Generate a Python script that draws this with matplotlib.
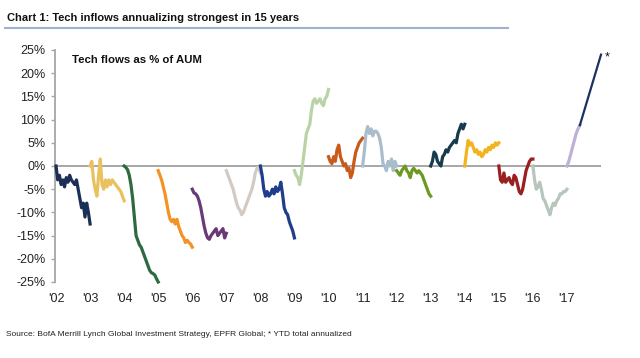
import numpy as np
import matplotlib
matplotlib.use("Agg")
import matplotlib.pyplot as plt
from matplotlib import font_manager
from matplotlib.lines import Line2D

# pick a narrow Arial-like face if one is there
names = {f.name for f in font_manager.fontManager.ttflist}
font = "Liberation Sans Narrow" if "Liberation Sans Narrow" in names else "Liberation Sans"
plt.rcParams["font.family"] = [font, "DejaVu Sans"]

# Tech flows as % of AUM, cumulative within each calendar year
v2002 = [0, -3, -2, -4, -3, -4.5, -2.5, -3.5, -2, -3, -3.5, -4, -3, -5, -7, -9, -8, -11, -8, -10, -12.5]
v2003 = [0, 1, -3, -5, -6.5, -2, 1.5, -4, -5, -3, -4.5, -3, -4, -3, -3.5, -4, -4.5, -5, -5.5, -6.5, -7.5]
v2004 = [0, -0.3, -0.8, -2, -4, -7, -11, -15, -16, -17, -17.5, -18.5, -19.5, -20.5, -21.5, -22.5, -23, -23.2, -23.5, -24.3, -25]
v2005 = [-1, -2, -3, -4.5, -6, -8, -10, -11.5, -12, -11.5, -12.5, -11.5, -13, -14, -15, -15.5, -16.5, -16, -16.5, -16.8, -17.5]
v2006 = [-5, -5.8, -6, -6.5, -7.5, -9, -11, -13, -14.5, -15.5, -15.8, -15, -14.5, -14, -13.5, -15, -14.5, -14, -13.5, -15.5, -14.5]
v2007 = [-1, -2, -3, -4, -5, -6.5, -8, -9, -9.5, -10.5, -10, -9, -8, -7, -6, -5, -3.5, -1.5, -0.5, -0.3, -1.5]
v2008 = [0, -2, -5, -6.5, -5.5, -6.5, -6, -5, -6, -4.5, -5.5, -5, -3.5, -6, -9, -10, -10.5, -12, -13, -14, -15.5]
v2009 = [-1, -2, -2.5, -4, -2, 1, 4, 7, 8, 9, 12, 14, 14.5, 13.5, 14, 14.5, 13.5, 13, 14.5, 15, 16.5]
v2010 = [2, 1, 0.5, 2, 1, 3.5, 4.5, 2, 1, 0, 0.5, -1, -0.5, -2.5, -1.5, 1, 3, 4, 5, 5.5, 6]
v2011 = [0, 3, 7, 8.5, 7, 8, 6.5, 7.5, 7.5, 7, 6, 4, 0.5, 0, -1, 1, 0, 1.5, -1, 1, 0]
v2012 = [-1, -1.5, -2, -1, -0.5, 0, -1, -1.5, -2.5, -1, -0.5, -1, -1.5, -1, -1.5, -2, -3, -4, -5, -6, -6.5]
v2013 = [0, 1, 3, 2.5, 1, 0.5, 0, 2, 2.5, 3.5, 3, 4, 4.5, 5, 5.5, 5, 7, 8, 9, 8, 9]
v2014 = [0, 3, 5.5, 4.5, 5, 4, 3, 3.5, 2.5, 3, 2, 2.5, 3.5, 3, 4, 3.5, 4.5, 4, 5, 4.5, 5]
v2015 = [0, -3, -3.5, -1.5, -3.5, -3, -2.5, -3.5, -4, -2, -2.5, -4, -5.5, -6, -5, -3, -1, 0, 1, 1.5, 1.5]
v2016 = [0, -3, -5, -4.5, -3.5, -5, -7, -7.5, -8.5, -9.5, -10.5, -9, -8, -8.5, -7.5, -7, -6, -6, -5.5, -5.5, -5]
v2017 = [0, 1, 2.5, 4, 5.5, 7, 8, 8.8]
ytd_frac = 0.38          # share of 2017 elapsed
annualized_2017 = 24     # YTD total annualized

years = list(range(2002, 2017))
series = [v2002, v2003, v2004, v2005, v2006, v2007, v2008, v2009,
          v2010, v2011, v2012, v2013, v2014, v2015, v2016]
colors = ["#1c2f57", "#e9c15f", "#2d6a3e", "#f39325", "#6a3a78", "#d3cbc3",
          "#1f3d8a", "#b9d3a6", "#c85a1a", "#a9bdcc", "#6b9a23", "#173a4d",
          "#f2b31c", "#9a1f1f", "#b7c6bb"]
tick_labels = ["'02", "'03", "'04", "'05", "'06", "'07", "'08", "'09",
               "'10", "'11", "'12", "'13", "'14", "'15", "'16", "'17"]

fig = plt.figure(figsize=(6.4, 3.58), dpi=100)
ax = fig.add_axes([55/640, 76/358, 546/640, 232/358])

for yr, vals, c in zip(years, series, colors):
    x = np.linspace(yr, yr + 1, len(vals))
    ax.plot(x, vals, color=c, lw=2.3, solid_joinstyle="round", clip_on=False, zorder=3)

x17 = np.linspace(2017, 2017 + ytd_frac, len(v2017))
ax.plot(x17, v2017, color="#bfb0d6", lw=2.3, clip_on=False, zorder=3)
ax.plot([2017 + ytd_frac, 2018], [v2017[-1], annualized_2017], color="#1c3160",
        lw=1.6, clip_on=False, zorder=3)

ax.axhline(0, color="#a0a0a0", lw=1.3, zorder=1)
ax.set_xlim(2001.97, 2018)
ax.set_ylim(-25, 25)
for s in ["top", "right", "bottom"]:
    ax.spines[s].set_visible(False)
ax.spines["left"].set_color("#a6a6a6")
ax.spines["left"].set_linewidth(1.3)

ax.set_yticks(np.arange(-25, 26, 5))
ax.set_yticklabels([f"{t}%" for t in range(-25, 26, 5)])
ax.set_xticks(range(2002, 2018))
ax.set_xticklabels(tick_labels)
ax.tick_params(axis="y", length=3, width=1, color="#a6a6a6", pad=4, labelsize=9, labelcolor="#222222")
ax.tick_params(axis="x", length=0, pad=8, labelsize=9, labelcolor="#222222")

ax.text(0.031, 0.957, "Tech flows as % of AUM", transform=ax.transAxes,
        fontsize=8.2, fontweight="bold", va="center", color="#111111")
fig.text(605/640, 1 - 51/358, "*", fontsize=9, va="top", color="#111111")

fig.text(7/640, 1 - 18/358, "Chart 1: Tech inflows annualizing strongest in 15 years",
         fontsize=8, fontweight="bold", va="center", color="#111111")
fig.add_artist(Line2D([5/640, 508/640], [1 - 28/358, 1 - 28/358], color="#9fb3cf", lw=1.5))
fig.text(6/640, 1 - 335/358,
         "Source: BofA Merrill Lynch Global Investment Strategy, EPFR Global; * YTD total annualized",
         fontsize=6, va="center", color="#222222")

fig.savefig("out.png", dpi=100)
